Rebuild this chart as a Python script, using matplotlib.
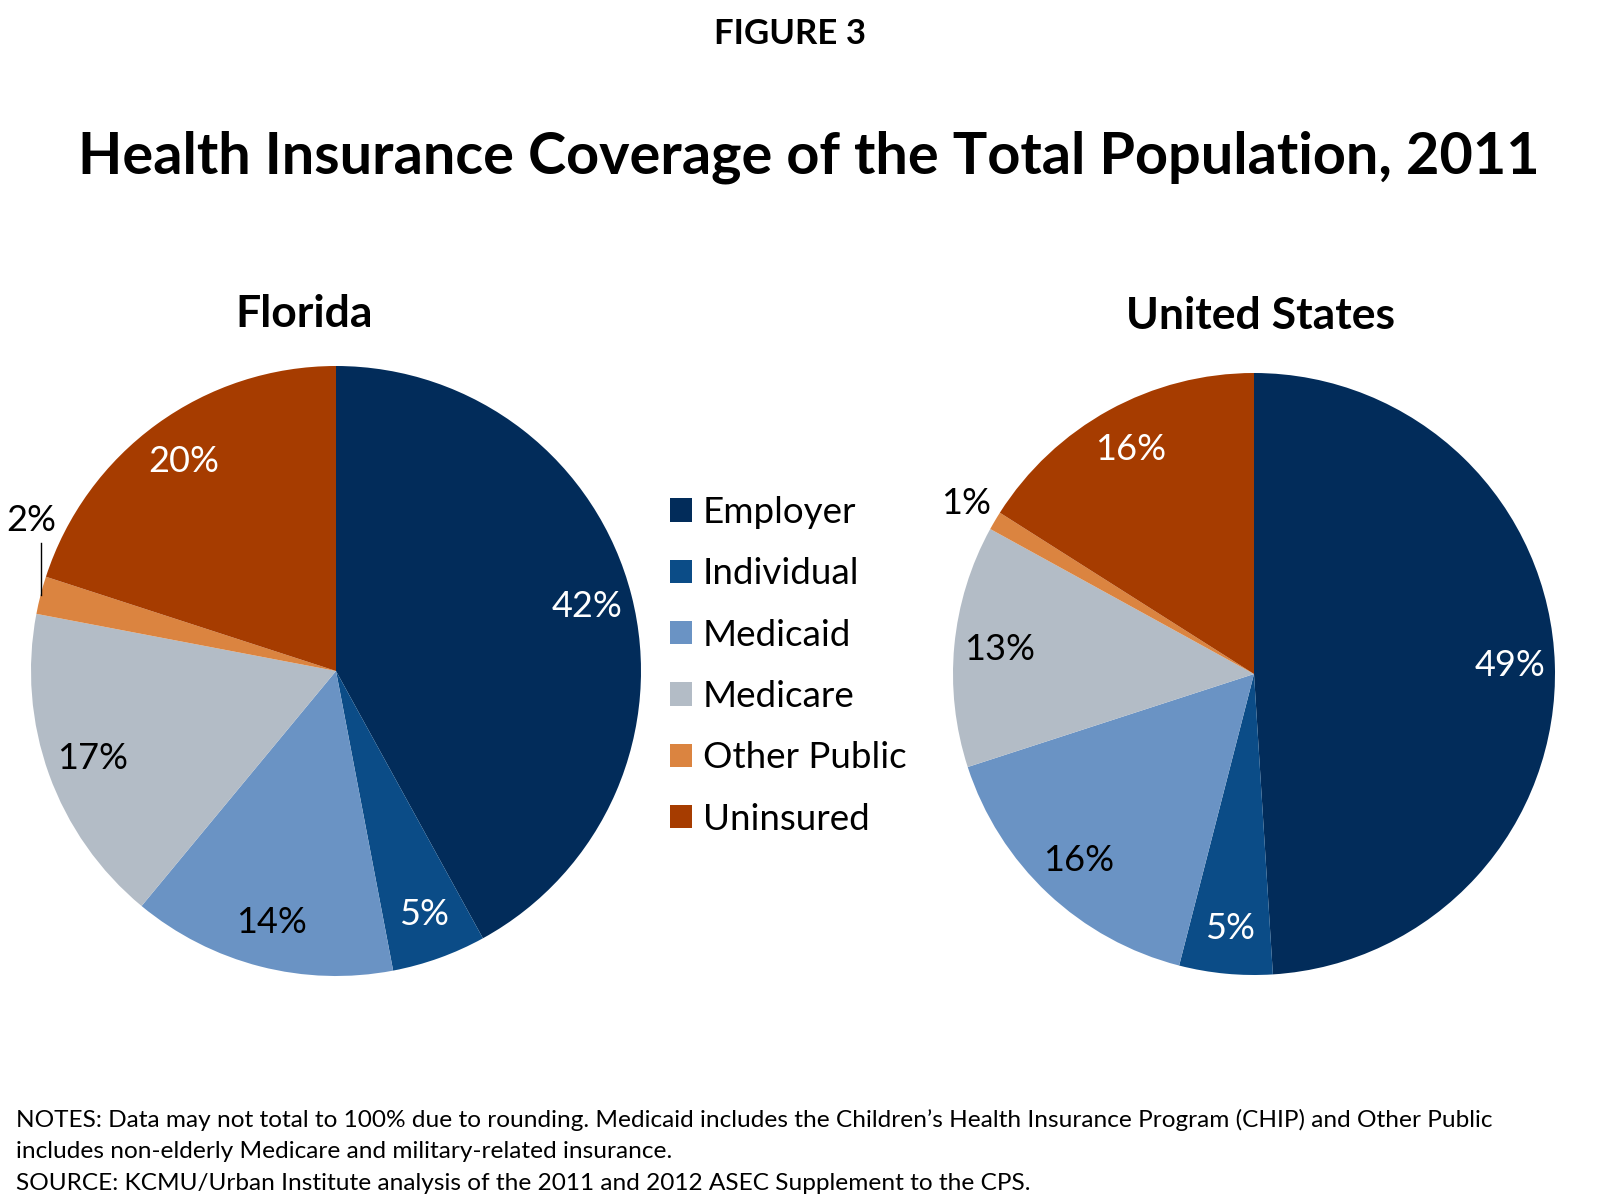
import matplotlib
matplotlib.use("Agg")
import matplotlib.pyplot as plt
import numpy as np

plt.rcParams['font.family'] = ['Lato', 'DejaVu Sans']

# data
categories = ['Employer', 'Individual', 'Medicaid', 'Medicare', 'Other Public', 'Uninsured']
florida = [42, 5, 14, 17, 2, 20]
united_states = [49, 5, 16, 13, 1, 16]

colors = ['#022C5A', '#0B4C87', '#6A93C4', '#B3BCC6', '#DB8440', '#A63C00']
text_colors = ['white', 'white', 'black', 'black', 'black', 'white']

W, H = 1600, 1200
fig = plt.figure(figsize=(16, 12), dpi=100)


def px(x, y):
    return x / W, 1 - y / H


def pie_axes(cx, cy, r):
    return fig.add_axes([(cx - r) / W, 1 - (cy + r) / H, 2 * r / W, 2 * r / H])


def draw_pie(ax, values, out_r, leader):
    wedges, _ = ax.pie(values, colors=colors, startangle=90, counterclock=False,
                       wedgeprops=dict(linewidth=0))
    ax.set_xlim(-1, 1)
    ax.set_ylim(-1, 1)
    ax.set_aspect('equal')
    ax.axis('off')
    for w, v, tc in zip(wedges, values, text_colors):
        mid = np.deg2rad((w.theta1 + w.theta2) / 2)
        ex, ey = np.cos(mid), np.sin(mid)
        label = f'{v}%'
        if v > 3:
            ax.text(0.85 * ex, 0.85 * ey, label, color=tc, fontsize=26,
                    ha='center', va='center')
        elif leader:
            # small slice: label above with a short vertical leader line
            ax.plot([ex, ex], [ey, ey + 0.17], color='black', lw=1, clip_on=False)
            ax.text(ex - 0.03, ey + 0.245, label, color='black', fontsize=26,
                    ha='center', va='center')
        else:
            ax.text(out_r * ex, out_r * ey, label, color='black', fontsize=26,
                    ha='center', va='center')
    return wedges


ax1 = pie_axes(336, 671, 305)
wedges = draw_pie(ax1, florida, 1.12, True)
ax2 = pie_axes(1254, 674, 301)
draw_pie(ax2, united_states, 1.11, False)

fig.text(*px(790, 34), 'FIGURE 3', fontsize=25, fontweight='bold', ha='center', va='center')
fig.text(*px(809, 157), 'Health Insurance Coverage of the Total Population, 2011',
         fontsize=41.5, fontweight='bold', ha='center', va='center')
fig.text(*px(304, 314), 'Florida', fontsize=32, fontweight='bold', ha='center', va='center')
fig.text(*px(1260, 316), 'United States', fontsize=32, fontweight='bold',
         ha='center', va='center')

fig.legend(wedges, categories, loc='upper left', bbox_to_anchor=px(670, 496),
           frameon=False, fontsize=26.5, handlelength=0.6, handleheight=0.6,
           handletextpad=0.3, labelspacing=0.77, borderpad=0, borderaxespad=0)

notes = ['NOTES: Data may not total to 100% due to rounding. Medicaid includes the '
         'Children\u2019s Health Insurance Program (CHIP) and Other Public',
         'includes non-elderly Medicare and military-related insurance.',
         'SOURCE: KCMU/Urban Institute analysis of the 2011 and 2012 ASEC Supplement to the CPS.']
for i, line in enumerate(notes):
    fig.text(*px(16, 1120 + 32 * i), line, fontsize=17.6, ha='left', va='center')

fig.savefig('out.png', dpi=100)
